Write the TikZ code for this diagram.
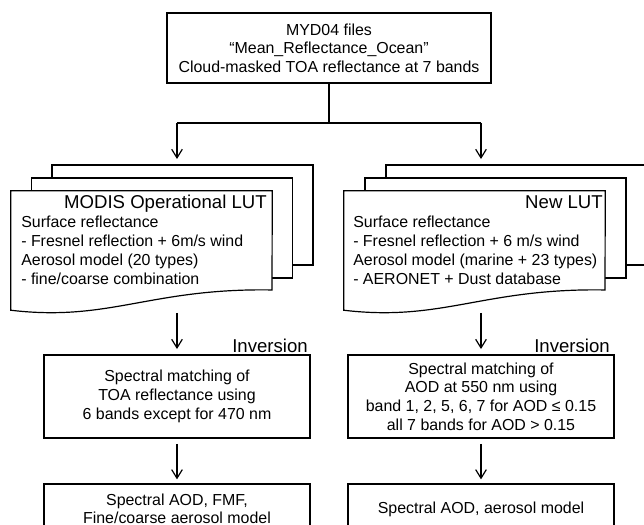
\documentclass[tikz,border=0pt]{standalone}
\usepackage{fontspec}
\setmainfont{Liberation Sans}
\usetikzlibrary{arrows.meta}

\begin{document}
\begin{tikzpicture}[
	box/.style={shape=rectangle, draw, line width=0.9pt, fill=white, align=center, inner sep=0pt, font=\fontsize{12}{14}\selectfont},
	page/.style={shape=rectangle, draw, line width=0.9pt, fill=white, minimum width=6.906cm, minimum height=2.646cm, inner sep=0pt},
	txt/.style={inner sep=0pt, align=left, font=\fontsize{12}{14.5}\selectfont},
	head/.style={inner sep=0pt, font=\fontsize{14}{16}\selectfont},
	wire/.style={line width=0.9pt},
	arr/.style={line width=0.9pt, -{Straight Barb[length=6.5pt,width=8pt]}}]
	% Paths, nodes and wires:
	\useasboundingbox (0,0) rectangle (17.04,13.89);
	\clip (0,0) rectangle (17.04,13.89);
	\node[box, minimum width=8.572cm, minimum height=1.852cm] (src) at (8.705, 12.621){MYD04 files\\“Mean\_Reflectance\_Ocean”\\Cloud-masked TOA reflectance at 7 bands};
	\node[page] (backL) at (4.829, 8.203){};
	\node[page] (midL) at (4.287, 7.858){};
	\node[shape=rectangle, minimum width=6.906cm, minimum height=3.149cm, inner sep=0pt] (docL) at (3.744, 7.263){};
	\draw[wire, fill=white] (docL.north west) -- (docL.north east) -- (7.197, 6.218) .. controls (3.969, 6.271) and (2.911, 5.371) .. (docL.south west) -- cycle;
	\node[head, anchor=base east] (titleL) at (7.064, 8.361){MODIS Operational LUT};
	\node[txt, anchor=base west] (bodyL) at (0.556, 6.350){Surface reflectance\\- Fresnel reflection + 6m/s wind\\Aerosol model (20 types)\\- fine/coarse combination};
	\node[page] (backR) at (13.666, 8.203){};
	\node[page] (midR) at (13.110, 7.858){};
	\node[shape=rectangle, minimum width=6.906cm, minimum height=3.149cm, inner sep=0pt] (docR) at (12.555, 7.263){};
	\draw[wire, fill=white] (docR.north west) -- (docR.north east) -- (16.008, 6.218) .. controls (12.780, 6.271) and (11.722, 5.371) .. (docR.south west) -- cycle;
	\node[head, anchor=base east] (titleR) at (15.955, 8.361){New LUT};
	\node[txt, anchor=base west] (bodyR) at (9.340, 6.350){Surface reflectance\\- Fresnel reflection + 6 m/s wind\\Aerosol model (marine + 23 types)\\- AERONET + Dust database};
	\node[box, minimum width=7.038cm, minimum height=2.196cm] (invL) at (4.683, 3.400){Spectral matching of\\TOA reflectance using\\6 bands except for 470 nm};
	\node[box, minimum width=7.038cm, minimum height=2.196cm] (invR) at (12.727, 3.400){Spectral matching of\\AOD at 550 nm using\\band 1, 2, 5, 6, 7 for AOD ≤ 0.15\\all 7 bands for AOD > 0.15};
	\node[head, anchor=base east] (invLabL) at (8.150, 4.551){Inversion};
	\node[head, anchor=base east] (invLabR) at (16.140, 4.551){Inversion};
	\node[box, minimum width=7.038cm, minimum height=1.323cm] (outL) at (4.683, 0.423){Spectral AOD, FMF,\\Fine/coarse aerosol model};
	\node[box, minimum width=7.038cm, minimum height=1.323cm] (outR) at (12.727, 0.423){Spectral AOD, aerosol model};
	\coordinate (forkL) at (4.683, 10.637);
	\coordinate (forkR) at (12.727, 10.637);
	\draw[wire] (src.south) -- (src.south |- forkL);
	\draw[wire] (forkL) -- (forkR);
	\draw[arr, shorten >=4pt] (forkL) -- (forkL |- backL.north);
	\draw[arr, shorten >=4pt] (forkR) -- (forkR |- backR.north);
	\draw[arr, shorten <=2pt, shorten >=4pt] (invL.north |- docL.south) -- (invL.north);
	\draw[arr, shorten <=2pt, shorten >=4pt] (invR.north |- docR.south) -- (invR.north);
	\draw[arr, shorten <=4pt, shorten >=3pt] (invL.south) -- (outL.north);
	\draw[arr, shorten <=4pt, shorten >=3pt] (invR.south) -- (outR.north);
\end{tikzpicture}
\end{document}
